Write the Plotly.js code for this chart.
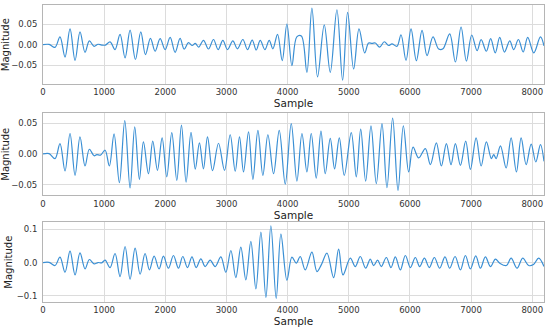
<!DOCTYPE html>
<html>
<head>
<meta charset="utf-8">
<script src="https://cdn.plot.ly/plotly-3.0.1.min.js"></script>
<style>html,body{margin:0;padding:0;background:#fff;}#chart{width:550px;height:330px;}</style>
</head>
<body>
<div id="chart"></div>
<script>
// Panel 1 extrema (sample, magnitude)
const sample1 = [0,100,196,278,360,442,524,605,687,758,835,900,960,1020,1097,1178,1260,1342,1424,1511,1599,1675,1757,1833,1915,1997,2079,2160,2242,2308,2378,2440,2490,2545,2624,2706,2788,2864,2941,3017,3104,3180,3268,3344,3421,3486,3552,3628,3699,3759,3835,3912,3988,4070,4150,4225,4315,4397,4489,4599,4697,4806,4899,4981,5079,5167,5260,5324,5380,5434,5504,5581,5651,5706,5788,5854,5936,6018,6105,6198,6279,6377,6470,6540,6650,6743,6836,6923,7010,7098,7164,7250,7320,7395,7468,7545,7632,7697,7774,7851,7926,8025,8134,8192];
const mag1 = [0,0.0005,-0.0065,0.0186,-0.030,0.038,-0.038,0.031,-0.0186,0.009,-0.004,0.001,-0.001,-0.001,0.0065,-0.012,0.025,-0.032,0.035,-0.036,0.031,-0.024,0.015,-0.016,0.0145,-0.012,0.0177,-0.0185,0.015,-0.011,0.0048,-0.002,0.003,-0.006,0.0105,-0.0105,0.0125,-0.012,0.0105,-0.012,0.009,-0.010,0.0125,-0.012,0.011,-0.013,0.0105,-0.012,0.0105,-0.010,0.025,-0.0386,0.050,-0.0507,0.019,0.021,-0.067,0.0886,-0.078,0.048,-0.067,0.0845,-0.086,0.078,-0.059,0.038,-0.020,0.004,0.003,0.004,-0.006,0.007,-0.002,0.002,-0.004,0.024,-0.038,0.038,-0.039,0.0346,-0.0265,0.0186,-0.0105,-0.010,0.026,-0.042,0.0427,-0.040,0.0234,-0.0145,0.012,-0.016,0.0145,-0.020,0.0177,-0.018,0.009,-0.012,0.0125,-0.0178,0.0178,-0.020,0.0186,-0.003];

// Panel 2 extrema
const sample2 = [0,100,196,278,360,442,524,605,687,758,835,880,940,1015,1085,1162,1249,1337,1424,1500,1576,1642,1724,1795,1871,1948,2024,2106,2188,2264,2340,2420,2490,2558,2624,2690,2772,2870,2968,3061,3143,3213,3279,3361,3432,3514,3595,3677,3770,3863,3961,4059,4152,4234,4315,4386,4468,4545,4615,4697,4768,4845,4926,5041,5123,5195,5276,5363,5450,5543,5624,5717,5805,5892,5979,6051,6143,6252,6334,6432,6514,6596,6672,6743,6825,6912,6988,7082,7164,7250,7332,7370,7409,7480,7573,7654,7741,7818,7900,7982,8058,8134,8192];
const mag2 = [0,0.0005,-0.0076,0.0168,-0.0276,0.033,-0.0346,0.0276,-0.0195,0.0076,-0.003,-0.001,-0.002,0.006,-0.0195,0.0325,-0.0465,0.054,-0.055,0.0438,-0.041,0.0195,-0.032,0.0206,-0.0265,0.026,-0.037,0.0346,-0.0427,0.0465,-0.0455,0.035,-0.0245,0.018,-0.024,0.0276,-0.027,0.0173,-0.0265,0.031,-0.028,0.0276,-0.029,0.0357,-0.041,0.038,-0.0346,0.031,-0.032,0.038,-0.0487,0.049,-0.0438,0.033,-0.029,0.033,-0.039,0.0368,-0.032,0.025,-0.024,0.026,-0.0346,0.0346,-0.037,0.040,-0.044,0.0454,-0.048,0.049,-0.0546,0.058,-0.059,0.0454,-0.029,0.011,-0.0065,0.0087,-0.0173,0.018,-0.0195,0.0168,-0.0173,0.0168,-0.0184,0.0206,-0.025,0.026,-0.0195,0.0195,-0.0076,-0.001,-0.0076,0.013,-0.0227,0.026,-0.029,0.026,-0.0173,0.016,-0.013,0.015,-0.012];

// Panel 3 extrema
const sample3 = [0,100,196,278,360,442,524,605,687,758,835,900,960,1015,1097,1178,1260,1342,1424,1506,1588,1669,1740,1817,1898,1969,2051,2133,2215,2286,2362,2436,2505,2581,2651,2733,2815,2908,2990,3072,3153,3235,3317,3399,3481,3563,3645,3726,3813,3890,3988,4070,4141,4206,4288,4397,4479,4550,4643,4752,4834,4905,5025,5106,5188,5276,5352,5406,5472,5532,5614,5690,5761,5843,5925,6007,6088,6159,6236,6317,6399,6486,6573,6650,6738,6825,6907,6988,7076,7152,7234,7316,7398,7470,7578,7654,7752,7844,7942,8020,8105,8192];
const mag3 = [0,0.0005,-0.009,0.016,-0.029,0.034,-0.037,0.029,-0.019,0.009,-0.004,0.000,-0.001,0.007,-0.015,0.027,-0.042,0.048,-0.050,0.043,-0.035,0.027,-0.022,0.019,-0.019,0.019,-0.017,0.021,-0.017,0.018,-0.015,0.017,-0.015,0.011,-0.012,0.007,-0.012,0.017,-0.029,0.036,-0.045,0.046,-0.052,0.063,-0.079,0.091,-0.104,0.110,-0.107,0.085,-0.053,0.016,-0.002,0.018,-0.022,0.031,-0.027,-0.007,0.028,-0.045,0.040,-0.037,0.013,-0.012,0.018,-0.017,0.010,-0.009,0.007,-0.012,0.015,-0.015,0.017,-0.022,0.021,-0.015,0.015,-0.012,0.013,-0.015,0.015,-0.017,0.017,-0.017,0.018,-0.022,0.021,-0.019,0.020,-0.017,0.017,-0.012,0.010,-0.002,-0.009,0.013,-0.017,0.013,-0.009,-0.006,0.013,-0.012];

const xTicks = [0,1000,2000,3000,4000,5000,6000,7000,8000];
const yTicks12 = [-0.05,0,0.05];
const yLabels12 = ['\u22120.05','0.00','0.05'];
const yTicks3 = [-0.1,0,0.1];
const yLabels3 = ['\u22120.1','0.0','0.1'];

const lineColor = '#3a8fd4';
function tr(x, y, n) {
  return {x: x, y: y, type: 'scatter', mode: 'lines',
    line: {color: lineColor, width: 1.2, shape: 'spline', smoothing: 1},
    xaxis: n === 1 ? 'x' : 'x' + n, yaxis: n === 1 ? 'y' : 'y' + n, hoverinfo: 'skip'};
}
const tickFont = {family: 'DejaVu Sans', size: 8.5, color: '#333'};
const titleFont = {family: 'DejaVu Sans', size: 10, color: '#222'};
function xax(anchor) {
  return {anchor: anchor, range: [0, 8192], tickvals: xTicks, ticktext: xTicks.map(String),
    showgrid: true, gridcolor: '#dcdcdc', gridwidth: 1, zeroline: false,
    showline: true, mirror: true, linecolor: '#b5b5b5', linewidth: 1,
    ticks: '', tickfont: tickFont,
    title: {text: 'Sample', font: {family: 'DejaVu Sans', size: 10.5, color: '#222'}, standoff: 0}};
}
function yax(anchor, domain, range, ticks, labels) {
  return {anchor: anchor, domain: domain, range: range, tickvals: ticks, ticktext: labels,
    showgrid: true, gridcolor: '#dcdcdc', gridwidth: 1, zeroline: false,
    showline: true, mirror: true, linecolor: '#b5b5b5', linewidth: 1,
    ticks: 'outside', ticklen: 3, tickcolor: 'rgba(0,0,0,0)', tickfont: tickFont,
    title: {text: 'Magnitude', font: titleFont, standoff: 2}};
}
const layout = {
  width: 550, height: 330, showlegend: false,
  paper_bgcolor: '#fff', plot_bgcolor: '#fff',
  margin: {l: 43, r: 6, t: 5, b: 28},
  xaxis: xax('y'), xaxis2: xax('y2'), xaxis3: xax('y3'),
  yaxis: yax('x', [0.733, 1.0], [-0.096, 0.096], yTicks12, yLabels12),
  yaxis2: yax('x2', [0.359, 0.636], [-0.067, 0.066], yTicks12, yLabels12),
  yaxis3: yax('x3', [0.0, 0.268], [-0.118, 0.12], yTicks3, yLabels3)
};
Plotly.newPlot('chart', [tr(sample1, mag1, 1), tr(sample2, mag2, 2), tr(sample3, mag3, 3)], layout, {staticPlot: true});
</script>
</body>
</html>
